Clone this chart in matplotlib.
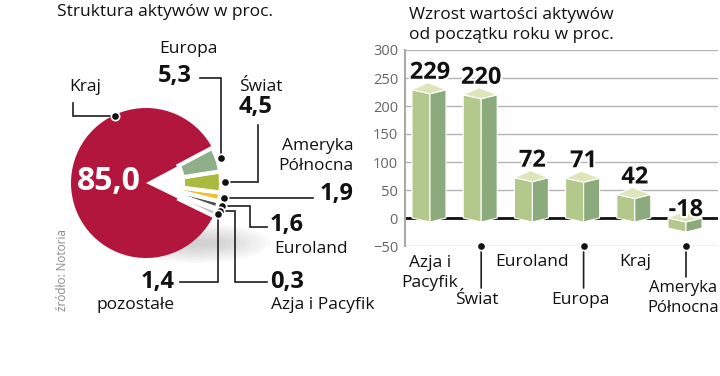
import matplotlib
matplotlib.use("Agg")
import matplotlib.pyplot as plt
from matplotlib.patches import Ellipse
import matplotlib.patheffects as pe
import numpy as np

plt.rcParams['font.family'] = ['Open Sans', 'DejaVu Sans']

# --- data: structure of assets (pie), order counterclockwise from the big slice
pie_names = ["Kraj", "pozostałe", "Azja i Pacyfik", "Euroland", "Ameryka Północna", "Świat", "Europa"]
pie_values = [85.0, 1.4, 0.3, 1.6, 1.9, 4.5, 5.3]
pie_colors = ["#b3163d", "#b4bec8", "#2a2a2a", "#505050", "#f0bf38", "#a9bb3e", "#8fae8a"]

# --- data: growth of assets since start of year (bars)
bar_names = ["Azja i\nPacyfik", "Świat", "Euroland", "Europa", "Kraj", "Ameryka\nPółnocna"]
bar_values = [229, 220, 72, 71, 42, -18]
yticks = [-50, 0, 50, 100, 150, 200, 250, 300]

W, H = 720, 376
fig = plt.figure(figsize=(W / 100, H / 100), dpi=100)

# ---------------- pie ----------------
cx, cy, R = 146, 183, 75          # pixel centre / radius
axp = fig.add_axes([(cx - 100) / W, (H - cy - 100) / H, 200 / W, 200 / H])

# soft shadow under the pie
for k in range(12):
    axp.add_patch(Ellipse((50, -60), 150 - 10 * k, 40 - 3 * k, color="#8a8a8a",
                          alpha=0.035, lw=0, zorder=0, clip_on=False))

start = 28
big_cols = [pie_colors[0]] + ["none"] * (len(pie_values) - 1)
axp.pie(pie_values, colors=big_cols, radius=R, startangle=start, counterclock=True,
        wedgeprops=dict(lw=0))
small_cols = ["none"] + pie_colors[1:]
ring, _ = axp.pie(pie_values, colors=small_cols, radius=R, startangle=start,
                  counterclock=True, wedgeprops=dict(width=38, edgecolor="white", lw=3))
ring[0].set_edgecolor("none")
axp.set_xlim(-100, 100)
axp.set_ylim(-100, 100)
axp.axis("off")

# overlay in pixel coordinates for texts and leader lines
ax = fig.add_axes([0, 0, 1, 1])
ax.set_xlim(0, W)
ax.set_ylim(H, 0)
ax.axis("off")

ang = start + 360 * np.cumsum([0] + pie_values) / sum(pie_values)
mids = (ang[:-1] + ang[1:]) / 2


def dot_at(a, r):
    return cx + r * np.cos(np.radians(a)), cy - r * np.sin(np.radians(a))


lc = "#1e1e1e"
def leader(pts):
    xs, ys = zip(*pts)
    ax.plot(xs, ys, color=lc, lw=1.2, solid_joinstyle="miter")
    ax.plot(xs[0], ys[0], "o", ms=6, color="#111", mec="white", mew=1.2)

dots = {n: dot_at(m, 79) for n, m in zip(pie_names, mids)}
dots["Kraj"] = dot_at(115, 74)

x, y = dots["Kraj"];             leader([(x, y), (73, y), (73, 103)])
x, y = dots["Europa"];           leader([(x, y), (x, 78), (200, 78)])
x, y = dots["Świat"];            leader([(x, y), (258, y), (258, 125)])
x, y = dots["Ameryka Północna"]; leader([(x, y), (313, y)])
x, y = dots["Euroland"];         leader([(x, y), (250, y), (250, 227), (267, 227)])
x, y = dots["Azja i Pacyfik"];   leader([(x, y), (235, y), (235, 282), (267, 282)])
x, y = dots["pozostałe"];        leader([(x, y), (x, 282), (180, 282)])

fs_lab, fs_val = 12.5, 17
def lab(x, y, s, ha="left", bold=False, size=None, **kw):
    ax.text(x, y, s, ha=ha, va="center", fontsize=size or (fs_val if bold else fs_lab),
            fontweight="bold" if bold else "normal", color=kw.pop("color", "#111"), **kw)

lab(57, 12, "Struktura aktywów w proc.")
lab(69, 87, "Kraj")
lab(109, 181, "85,0", ha="center", bold=True, size=23, color="white")
lab(159, 49, "Europa")
lab(158, 76, "5,3", bold=True)
lab(239, 87, "Świat")
lab(239, 107, "4,5", bold=True)
lab(353, 156, "Ameryka\nPółnocna", ha="right", linespacing=1.4)
lab(354, 194, "1,9", ha="right", bold=True)
lab(270, 225, "1,6", bold=True)
lab(274, 249, "Euroland")
lab(270, 282, "0,3", bold=True)
lab(271, 305, "Azja i Pacyfik")
lab(175, 282, "1,4", ha="right", bold=True)
lab(174, 305, "pozostałe", ha="right")
ax.text(63, 270, "źródło: Notoria", rotation=90, ha="center", va="center",
        fontsize=8.5, color="#8a8a8a")

# ---------------- bars ----------------
lab(409, 25, "Wzrost wartości aktywów\nod początku roku w proc.", linespacing=1.3)

axb = fig.add_axes([405 / W, (H - 246) / H, 313 / W, 196 / H])
step = 51.2                           # pixels between bars
px_y = 196 / 350                      # pixels per unit
axb.set_xlim((405 - 430) / step, (718 - 430) / step)
axb.set_ylim(-50, 300)
axb.set_yticks(yticks)
axb.tick_params(axis="y", length=0, pad=5, labelsize=10.5, labelcolor="#666")
axb.set_xticks([])
for s in ["top", "right", "bottom"]:
    axb.spines[s].set_visible(False)
axb.spines["left"].set_color("#a8a8a8")
axb.spines["left"].set_linewidth(1.5)
axb.grid(axis="y", color="#b4b4b4", lw=1)
axb.set_axisbelow(True)
axb.axhline(0, color="#111", lw=2, zorder=2)

L, Rr = 18 / step, 16 / step
d, b, bx = 4 / px_y, 7 / px_y, 2 / step
for i, v in enumerate(bar_values):
    lo, hi = min(0, v), max(0, v)
    axb.fill([i - L, i, i, i - L], [hi, hi - d, lo - d, lo], color="#b3c98b",
             ec="white", lw=0.8, zorder=3)
    axb.fill([i, i + Rr, i + Rr, i], [hi - d, hi, lo, lo - d], color="#8cab7d",
             ec="white", lw=0.8, zorder=3)
    axb.fill([i - L, i, i + Rr, i - bx], [hi, hi - d, hi, hi + b], color="#dfe5bb",
             ec="white", lw=0.8, zorder=3)
    axb.annotate(str(v), xy=(i, hi), xytext=(0, 17 if v > 0 else 8),
                 textcoords="offset pixels", ha="center", va="center",
                 fontsize=fs_val, fontweight="bold", color="#111", zorder=5,
                 path_effects=[pe.withStroke(linewidth=3, foreground="white")])

# category labels below the axis: (label centre drop, leader length) in pixels
cat_layout = [(27, 0), (54, 42), (16, 0), (54, 42), (16, 0), (52, 31)]
cat_shift = [0, -4, 0, -3, 0, -3]
for i, (name, (off, line)) in enumerate(zip(bar_names, cat_layout)):
    if line:
        axb.annotate("", xy=(i, -50), xytext=(0, -line), textcoords="offset pixels",
                     arrowprops=dict(arrowstyle="-", color=lc, lw=1.2,
                                     shrinkA=0, shrinkB=0), annotation_clip=False)
        axb.plot(i, -50, "o", ms=6, color="#111", mec="white", mew=1.2,
                 clip_on=False, zorder=6)
    axb.annotate(name, xy=(i, -50), xytext=(cat_shift[i], -off),
                 textcoords="offset pixels", ha="center", va="center",
                 fontsize=fs_lab if i < 5 else 12, color="#111", linespacing=1.3,
                 annotation_clip=False)

fig.savefig("out.png", dpi=100)
